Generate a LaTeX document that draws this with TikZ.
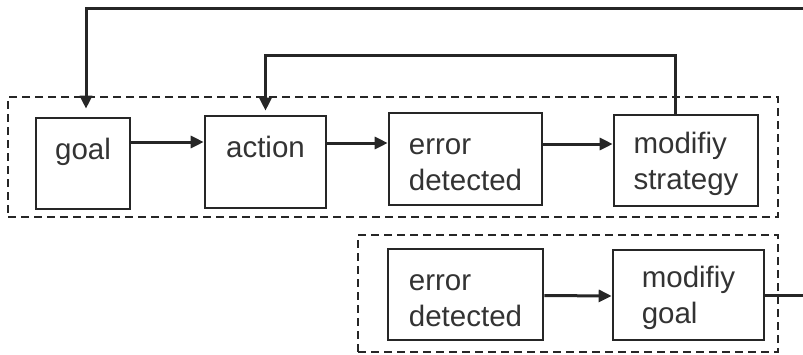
\documentclass[tikz,border=0pt]{standalone}
\usepackage{fontspec}
\setmainfont{Liberation Sans}
\usetikzlibrary{arrows.meta}
\definecolor{ink}{HTML}{262626}
\definecolor{txt}{HTML}{333333}
\newcommand{\lowstrut}{\rule{0pt}{27.5pt}}
\tikzset{
  blk/.style={draw=ink, line width=2.6pt, align=left, text=txt, inner sep=0pt,
    font=\fontsize{29.5}{36}\selectfont},
  arr/.style={draw=ink, line width=3pt, -{Triangle[length=13pt,width=12pt]}},
  dashbox/.style={draw=ink, line width=2.4pt, dash pattern=on 8pt off 5pt, inner sep=0pt},
}
\begin{document}
\begin{tikzpicture}[x=1pt,y=-1pt]
\useasboundingbox (0,0) rectangle (803,354);
% group frames
\node[dashbox, minimum width=770pt, minimum height=120pt] (g1) at (393,157) {};
\node[dashbox, minimum width=420pt, minimum height=117pt] (g2) at (568,293.5) {};
% blocks
\node[blk, minimum width=94pt, minimum height=91pt] (goal) at (83,163.5) {\lowstrut goal\\\mbox{}};
\node[blk, minimum width=121pt, minimum height=92pt] (action) at (265.5,162) {\lowstrut action\\\mbox{}};
\node[blk, minimum width=153pt, minimum height=92pt] (err1) at (465.5,159) {\lowstrut error\\detected};
\node[blk, minimum width=144pt, minimum height=91pt] (modstr) at (686,160.5) {\lowstrut modifiy\\strategy};
\node[blk, minimum width=155pt, minimum height=91pt] (err2) at (465.5,294.5) {\lowstrut error\\detected};
\node[blk, minimum width=151pt, minimum height=90pt] (modgoal) at (688.5,295) {\lowstrut modifiy\\goal};
% connectors
\draw[arr] ([yshift=21.5pt]goal.east) -- ([yshift=20pt]action.west);
\draw[arr] ([yshift=19pt]action.east) -- ([yshift=16pt]err1.west);
\draw[arr] ([yshift=15pt]err1.east) -- ([yshift=16.5pt]modstr.west);
\draw[arr] ([yshift=-1pt]err2.east) -- ([yshift=-1pt]modgoal.west);
\coordinate (loop1) at (675,55);
\draw[arr] ([xshift=-11pt]modstr.north) -- (loop1) -| ([yshift=4pt]action.north);
\coordinate (loop2) at (815,8);
\draw[arr] (modgoal.east) -| (loop2) -| ([xshift=3pt,yshift=8pt]goal.north);
\end{tikzpicture}
\end{document}
